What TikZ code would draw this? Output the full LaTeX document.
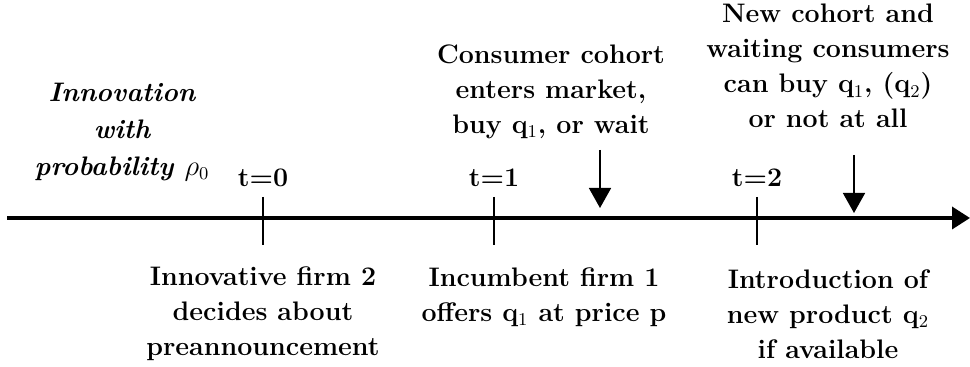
\documentclass[tikz,border=0pt]{standalone}
\usepackage{amsmath}
\usepackage{tikz}
\usetikzlibrary{
    positioning,
    arrows.meta
}
\tikzset{
    >=Stealth,
    label text/.style={
        font=\fontsize{13.4}{17.5}\selectfont\bfseries,
        align=center,
        inner sep=0pt
    },
    timeline/.style={
        line width=1.8pt,
        -{Triangle[length=9pt,width=11pt]}
    },
    tick/.style={
        line width=0.8pt
    },
    event arrow/.style={
        line width=0.8pt,
        -{Triangle[length=10pt,width=11pt]}
    }
}

\begin{document}
\begin{tikzpicture}[
    x=0.5pt,
    y=-0.5pt
]
    \useasboundingbox (0,0) rectangle (970,367);

    % Eje de tiempo
    \coordinate (start) at (7,218);
    \coordinate (end)   at (970,218);
    \draw[timeline] (start) -- (end);

    % Marcas
    \foreach \name/\x in {t0/263, t1/494, t2/757} {
        \coordinate (\name top) at (\x,197);
        \coordinate (\name bot) at (\x,245);
        \draw[tick] (\name top) -- (\name bot);
    }

    % Periodos
    \node[label text] (lt0) at (263,178) {t=0};
    \node[label text] (lt1) at (494,178) {t=1};
    \node[label text] (lt2) at (757,178) {t=2};

    % Textos de arriba
    \node[label text, font=\fontsize{13.4}{18.5}\selectfont\bfseries\itshape]
        (innov) at (122,132) {Innovation\\with\\probability $\rho_0$};
    \node[label text] (cohort) at (551,92)
        {Consumer cohort\\enters market,\\buy q$_1$, or wait};
    \node[label text] (newcohort) at (828,66)
        {New cohort and\\waiting consumers\\can buy q$_1$, (q$_2$)\\or not at all};

    % Textos de abajo
    \node[label text] (firm2) at (263,314)
        {Innovative firm 2\\decides about\\preannouncement};
    \node[label text] (firm1) at (544,297)
        {Incumbent firm 1\\offers q$_1$ at price p};
    \node[label text] (intro) at (828,314)
        {Introduction of\\new product q$_2$\\if available};

    % Flechas de eventos
    \coordinate (buy1 top) at (600,150);
    \coordinate (buy1 bot) at (600,208);
    \coordinate (buy2 top) at (854,155);
    \coordinate (buy2 bot) at (854,213);
    \draw[event arrow] (buy1 top) -- (buy1 bot);
    \draw[event arrow] (buy2 top) -- (buy2 bot);

\end{tikzpicture}
\end{document}
